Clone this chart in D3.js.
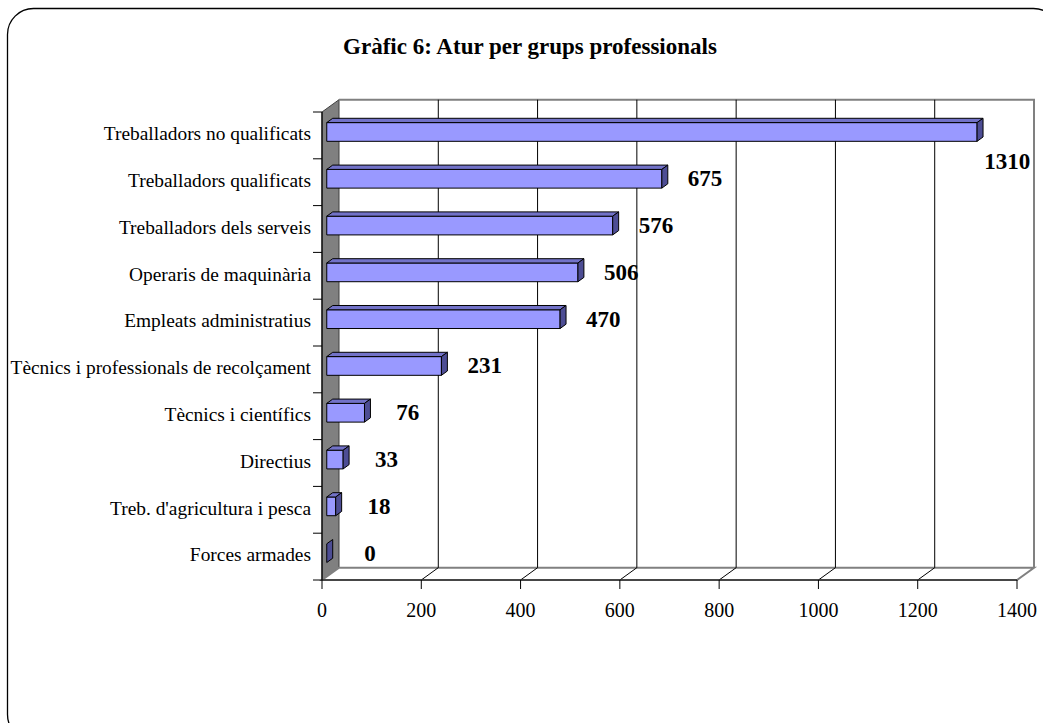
<!DOCTYPE html>
<html>
<head>
<meta charset="utf-8">
<script src="https://cdn.jsdelivr.net/npm/d3@7"></script>
<style>
  body { margin: 0; background: #fff; }
  svg { display: block; }
</style>
</head>
<body>
<div id="chart"></div>
<script>
// data
var categories = [
    "Treballadors no qualificats",
    "Treballadors qualificats",
    "Treballadors dels serveis",
    "Operaris de maquinària",
    "Empleats administratius",
    "Tècnics i professionals de recolçament",
    "Tècnics i científics",
    "Directius",
    "Treb. d'agricultura i pesca",
    "Forces armades"
];
var values = [1310, 675, 576, 506, 470, 231, 76, 33, 18, 0];
var xTicks = [0, 200, 400, 600, 800, 1000, 1200, 1400];
var title = "Gràfic 6: Atur per grups professionals";

var width = 1043, height = 723;
var serif = "'Liberation Serif', 'Times New Roman', serif";

//Make an SVG Container
var svg = d3.select("#chart").append("svg")
    .attr("width", width)
    .attr("height", height);

// outer rounded frame (runs past the bottom/right edge)
svg.append("rect")
    .attr("x", 7.5).attr("y", 8.5)
    .attr("width", 1052).attr("height", 732)
    .attr("rx", 26).attr("ry", 26)
    .attr("fill", "#fff")
    .attr("stroke", "#000")
    .attr("stroke-width", 1.3);

svg.append("text")
    .attr("x", 530).attr("y", 54)
    .attr("text-anchor", "middle")
    .attr("font-family", serif)
    .attr("font-weight", "bold")
    .attr("font-size", 23)
    .text(title);

// scales for the front plane
var x = d3.scaleLinear().domain([0, 1400]).range([322, 1017]);
var y = d3.scaleBand().domain(categories).range([112, 580])
    .paddingInner(0.6).paddingOuter(0.3);

// 3d depth offset
var DX = 17, DY = -12.3;
function p(v, yy, d) {
    return [x(v) + d * DX, yy + d * DY];
}
function poly(pts) {
    return pts.map(function(q) { return q.join(","); }).join(" ");
}

var y0 = y.range()[0], y1 = y.range()[1];

// left wall
svg.append("polygon")
    .attr("points", poly([p(0, y0, 0), p(0, y0, 1), p(0, y1, 1), p(0, y1, 0)]))
    .attr("fill", "#808080")
    .attr("stroke", "#404040")
    .attr("stroke-width", 1);

// floor
svg.append("polygon")
    .attr("points", poly([p(0, y1, 0), p(0, y1, 1), p(1400, y1, 1), p(1400, y1, 0)]))
    .attr("fill", "#fff")
    .attr("stroke", "#808080")
    .attr("stroke-width", 2);

// back wall outline (top + right)
svg.append("polyline")
    .attr("points", poly([p(0, y0, 1), p(1400, y0, 1), p(1400, y1, 1)]))
    .attr("fill", "none")
    .attr("stroke", "#808080")
    .attr("stroke-width", 2);

// gridlines on back wall and floor
xTicks.slice(1, -1).forEach(function(t) {
    svg.append("polyline")
        .attr("points", poly([p(t, y0, 1), p(t, y1, 1), p(t, y1, 0)]))
        .attr("fill", "none")
        .attr("stroke", "#000")
        .attr("stroke-width", 1);
});

// x axis line + ticks + labels
svg.append("line")
    .attr("x1", x(0)).attr("x2", x(1400))
    .attr("y1", y1).attr("y2", y1)
    .attr("stroke", "#333")
    .attr("stroke-width", 1.6);

xTicks.forEach(function(t) {
    svg.append("line")
        .attr("x1", x(t)).attr("x2", x(t))
        .attr("y1", y1).attr("y2", y1 + 9)
        .attr("stroke", "#000");
    svg.append("text")
        .attr("x", x(t)).attr("y", y1 + 37)
        .attr("text-anchor", "middle")
        .attr("font-family", serif)
        .attr("font-size", 20)
        .text(t);
});

// y axis line + ticks
svg.append("line")
    .attr("x1", x(0)).attr("x2", x(0))
    .attr("y1", y0).attr("y2", y1)
    .attr("stroke", "#000")
    .attr("stroke-width", 1.2);

var step = y.step();
d3.range(categories.length + 1).forEach(function(i) {
    svg.append("line")
        .attr("x1", x(0) - 9).attr("x2", x(0))
        .attr("y1", y0 + i * step).attr("y2", y0 + i * step)
        .attr("stroke", "#000");
});

categories.forEach(function(c) {
    svg.append("text")
        .attr("x", 311)
        .attr("y", y(c) + y.bandwidth() / 2 - 2)
        .attr("dy", "0.35em")
        .attr("text-anchor", "end")
        .attr("font-family", serif)
        .attr("font-size", 19.4)
        .text(c);
});

// bars
var d1 = 0.28, d2 = 0.63;
categories.forEach(function(c, i) {
    var v = values[i];
    var top = y(c), bot = y(c) + y.bandwidth();
    var g = svg.append("g")
        .attr("stroke", "#000")
        .attr("stroke-width", 1)
        .attr("stroke-linejoin", "round");
    if (v > 0) {
        // front face
        g.append("polygon")
            .attr("points", poly([p(0, top, d1), p(v, top, d1), p(v, bot, d1), p(0, bot, d1)]))
            .attr("fill", "#9999FF");
        // top face
        g.append("polygon")
            .attr("points", poly([p(0, top, d1), p(0, top, d2), p(v, top, d2), p(v, top, d1)]))
            .attr("fill", "#7272C8");
    }
    // side face
    g.append("polygon")
        .attr("points", poly([p(v, top, d1), p(v, top, d2), p(v, bot, d2), p(v, bot, d1)]))
        .attr("fill", "#4D4D94");
});

// value labels
categories.forEach(function(c, i) {
    var v = values[i];
    var lx = x(v) + 48;
    var ly = y(c) + y.bandwidth() / 2 - 4;
    if (lx + 25 > x(1400)) {
        // no room on the right: drop it under the bar
        lx = x(v) + 35;
        ly = ly + 30;
    }
    svg.append("text")
        .attr("x", lx).attr("y", ly)
        .attr("dy", "0.35em")
        .attr("text-anchor", "middle")
        .attr("font-family", serif)
        .attr("font-weight", "bold")
        .attr("font-size", 23)
        .text(v);
});
</script>
</body>
</html>
